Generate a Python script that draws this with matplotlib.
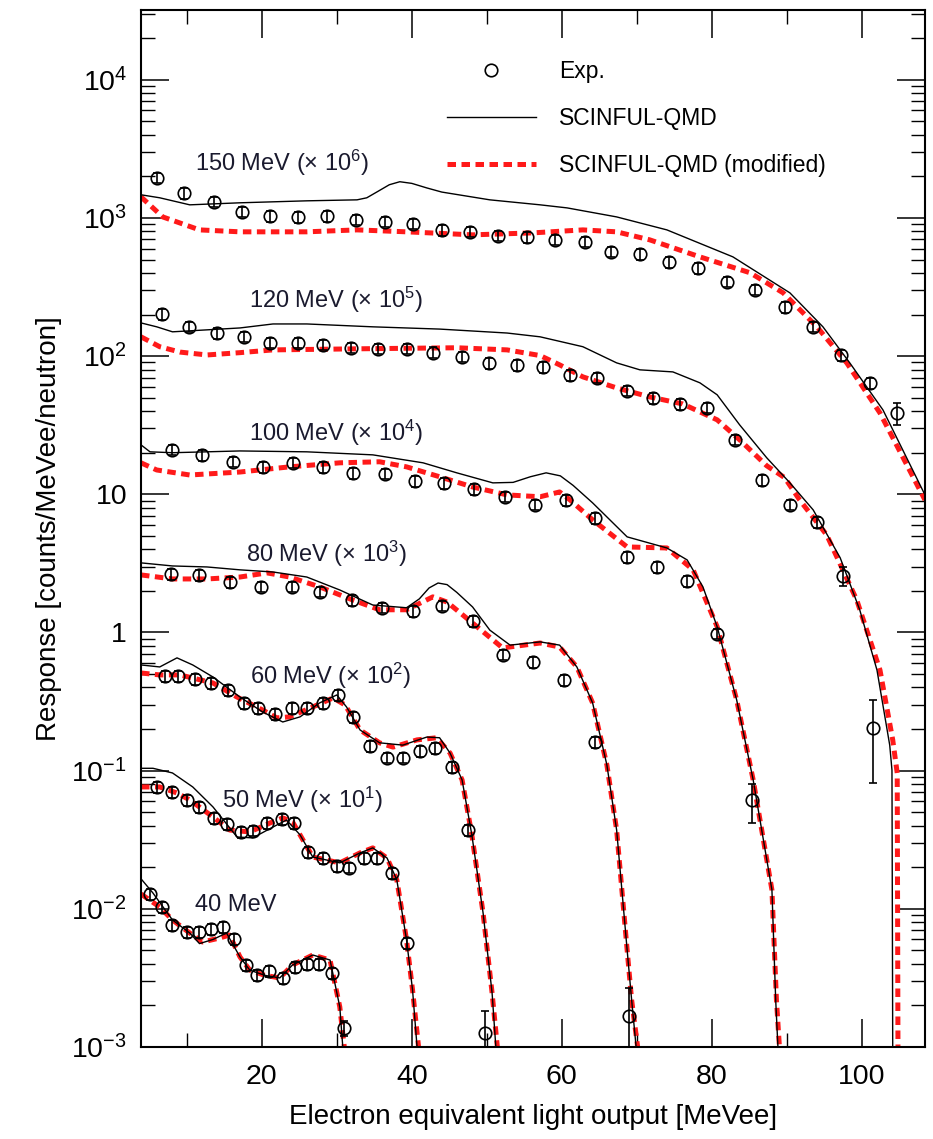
import matplotlib
matplotlib.use("Agg")
import matplotlib.pyplot as plt
from matplotlib.lines import Line2D
from matplotlib.ticker import LogLocator, NullFormatter

plt.rcParams['font.family'] = ['Liberation Sans', 'DejaVu Sans']
plt.rcParams['mathtext.fontset'] = 'custom'
plt.rcParams['mathtext.rm'] = 'Liberation Sans'
plt.rcParams['mathtext.default'] = 'regular'

# --- measured response (already multiplied by the scale factor in the label) ---
exp_40_x = [5.1, 6.7, 8.1, 10.0, 11.6, 13.2, 14.8, 16.3, 17.9, 19.3, 20.9, 22.8, 24.4, 26.0, 27.6, 29.3, 30.9]
exp_40_y = [0.0128, 0.0103, 0.00764, 0.00679, 0.00679, 0.00715, 0.00739, 0.00605, 0.00392, 0.00332,
            0.00355, 0.00316, 0.00379, 0.00399, 0.00399, 0.00343, 0.00137]
exp_40_err = [0.09] * 16 + [0.12]

exp_50_x = [6.1, 8.1, 10.0, 11.7, 13.6, 15.3, 17.2, 18.8, 20.7, 22.7, 24.3, 26.1, 28.1, 30.0, 31.6,
            33.6, 35.3, 37.3, 39.3]
exp_50_y = [0.0762, 0.0702, 0.0614, 0.0546, 0.0455, 0.0411, 0.0360, 0.0367, 0.0418, 0.0447, 0.0418,
            0.0258, 0.0233, 0.0204, 0.0198, 0.0233, 0.0233, 0.0182, 0.00566]
exp_50_err = [0.09] * 19

exp_60_x = [7.1, 8.9, 11.1, 13.3, 15.5, 17.6, 19.5, 21.7, 24.0, 26.0, 28.1, 30.1, 32.1, 34.4, 36.7,
            38.8, 41.1, 43.1, 45.3, 47.5, 49.7]
exp_60_y = [0.485, 0.485, 0.461, 0.431, 0.384, 0.309, 0.284, 0.257, 0.284, 0.284, 0.309, 0.353, 0.245,
            0.151, 0.124, 0.124, 0.139, 0.146, 0.106, 0.0372, 0.00126]
exp_60_err = [0.09] * 20 + [0.45]

exp_80_x = [7.9, 11.7, 15.7, 19.9, 24.0, 27.7, 32.0, 36.0, 40.1, 44.0, 48.1, 52.1, 56.1, 60.3, 64.4, 68.9]
exp_80_y = [2.65, 2.61, 2.32, 2.14, 2.14, 1.97, 1.72, 1.51, 1.43, 1.56, 1.21, 0.689, 0.612, 0.454,
            0.161, 0.00168]
exp_80_err = [0.09] * 15 + [0.60]

exp_100_x = [8.1, 12.0, 16.1, 20.1, 24.1, 28.1, 32.1, 36.4, 40.4, 44.3, 48.3, 52.4, 56.4, 60.5, 64.4,
             68.7, 72.7, 76.7, 80.7, 85.3]
exp_100_y = [21.0, 19.3, 17.2, 15.8, 16.9, 15.8, 14.3, 14.1, 12.5, 12.1, 10.9, 9.6, 8.4, 9.1, 6.75,
             3.52, 2.98, 2.36, 0.98, 0.061]
exp_100_err = [0.09] * 19 + [0.31]

exp_120_x = [6.7, 10.3, 14.0, 17.6, 21.1, 24.8, 28.1, 31.9, 35.5, 39.3, 42.8, 46.7, 50.3, 54.0, 57.5,
             61.1, 64.7, 68.7, 72.1, 75.7, 79.3, 83.1, 86.7, 90.4, 94.0, 97.5, 101.5]
exp_120_y = [202, 163, 147, 138, 125, 125, 121, 115, 113, 113, 106, 98.9, 89.4, 86.5, 83.5, 73.2, 69.7,
             56.1, 49.9, 45.1, 42.3, 24.8, 12.7, 8.4, 6.3, 2.57, 0.204]
exp_120_err = [0.09] * 25 + [0.15, 0.60]

exp_150_x = [6.0, 9.7, 13.6, 17.3, 21.1, 24.8, 28.7, 32.5, 36.4, 40.1, 44.0, 47.7, 51.5, 55.3, 59.1,
             63.1, 66.5, 70.4, 74.3, 78.1, 82.0, 85.7, 89.7, 93.5, 97.2, 101.1, 104.7]
exp_150_y = [1955, 1520, 1309, 1108, 1036, 1018, 1036, 970, 938, 907, 820, 794, 743, 730, 695, 672,
             569, 550, 481, 435, 345, 302, 227, 163, 102, 64, 38.8]
exp_150_err = [0.09] * 26 + [0.18]

# --- SCINFUL-QMD ---
qmd_40_x = [3.9, 5.5, 8.1, 10.4, 11.7, 13.5, 15.3, 17.1, 18.4, 20.4, 22.4, 24.1, 26.8, 29.1, 30.4, 30.8, 31.0]
qmd_40_y = [0.0165, 0.0130, 0.0083, 0.00668, 0.00560, 0.00600, 0.00668, 0.00448, 0.0036, 0.0033,
            0.00316, 0.00392, 0.00463, 0.00426, 0.00195, 0.001, 0.0003]

qmd_50_x = [3.9, 5.5, 8.1, 10.8, 13.5, 16.7, 18.8, 21.5, 23.3, 25.1, 26.8, 30.4, 33.1, 34.8, 36.7,
            38.0, 39.3, 40.1, 40.7, 41.0]
qmd_50_y = [0.104, 0.104, 0.0962, 0.0762, 0.0546, 0.0331, 0.0326, 0.0391, 0.0439, 0.0343, 0.0237,
            0.0215, 0.0254, 0.0276, 0.0233, 0.0162, 0.00595, 0.00258, 0.001, 0.0003]

qmd_60_x = [3.9, 6.4, 8.7, 10.8, 13.5, 17.1, 20.1, 22.8, 25.1, 27.7, 30.0, 31.3, 33.1, 35.7, 38.8,
            42.0, 43.7, 45.1, 46.7, 48.0, 49.5, 50.7, 51.2, 51.5]
qmd_60_y = [0.582, 0.563, 0.655, 0.582, 0.476, 0.341, 0.266, 0.225, 0.245, 0.309, 0.353, 0.289, 0.197,
            0.159, 0.153, 0.175, 0.173, 0.134, 0.0857, 0.0343, 0.00933, 0.00246, 0.001, 0.0003]

qmd_80_x = [3.9, 8.1, 12.7, 17.1, 21.5, 26.0, 30.4, 34.8, 39.3, 41.0, 42.3, 43.5, 44.7, 46.0, 48.1,
            50.4, 53.1, 57.1, 59.7, 62.0, 64.1, 66.0, 67.3, 68.7, 69.3, 69.9, 70.2]
qmd_80_y = [3.19, 3.03, 2.98, 2.84, 2.74, 2.52, 2.03, 1.58, 1.51, 1.75, 2.10, 2.28, 2.22, 1.95, 1.53,
            1.04, 0.81, 0.855, 0.81, 0.563, 0.309, 0.110, 0.0372, 0.00504, 0.00219, 0.001, 0.0003]

qmd_100_x = [3.9, 5.1, 8.1, 17.1, 26.0, 34.8, 41.5, 46.0, 50.8, 53.5, 55.8, 57.9, 59.8, 61.5, 64.1,
             68.7, 74.0, 76.7, 78.8, 80.7, 83.3, 85.5, 88.0, 88.5, 88.8, 89.0]
qmd_100_y = [22.8, 20.3, 20.0, 20.6, 20.3, 19.3, 16.9, 14.3, 12.1, 12.2, 13.4, 14.3, 13.6, 11.6, 8.67,
             4.92, 4.09, 3.35, 2.14, 1.10, 0.325, 0.0857, 0.0137, 0.0022, 0.001, 0.0003]

qmd_120_x = [3.9, 6.0, 8.1, 12.7, 17.1, 21.5, 26.0, 34.8, 43.7, 52.7, 57.1, 62.8, 67.3, 70.4, 74.8,
             78.4, 80.7, 83.7, 87.3, 90.4, 93.5, 97.1, 99.7, 102.0, 103.7, 104.0, 104.1, 104.2]
qmd_120_y = [174, 163, 150, 155, 160, 171, 171, 163, 157, 147, 138, 117, 89.4, 79.6, 76.9, 64.1, 52.5,
             31.8, 18.4, 12.1, 7.71, 3.47, 1.46, 0.535, 0.153, 0.101, 0.001, 0.0003]

qmd_150_x = [3.9, 6.4, 10.4, 17.1, 26.0, 32.7, 34.0, 35.5, 37.0, 38.4, 40.0, 42.0, 44.0, 50.4, 57.1,
             60.7, 67.3, 74.0, 82.8, 90.4, 94.8, 98.4, 102.8, 108.4]
qmd_150_y = [1472, 1400, 1245, 1288, 1331, 1353, 1400, 1560, 1740, 1830, 1780, 1650, 1540, 1353, 1245,
             1183, 1018, 820, 523, 287, 163, 89, 40.8, 9.9]

# --- SCINFUL-QMD (modified) ---
mod_40_x = [3.9, 6.4, 8.1, 10.4, 12.1, 14.4, 15.7, 17.1, 18.4, 20.4, 22.4, 24.1, 26.8, 29.1, 30.4, 31.0, 31.2]
mod_40_y = [0.0128, 0.0103, 0.0083, 0.00668, 0.00575, 0.00615, 0.00646, 0.00448, 0.0036, 0.0033,
            0.00316, 0.00392, 0.00463, 0.00426, 0.00195, 0.001, 0.0003]

mod_50_x = [3.9, 6.4, 8.7, 10.4, 13.5, 15.7, 18.4, 21.1, 22.8, 24.1, 25.1, 26.8, 30.4, 33.1, 34.8,
            36.7, 38.0, 39.3, 40.1, 40.9, 41.2]
mod_50_y = [0.0762, 0.0762, 0.0689, 0.0614, 0.0462, 0.0372, 0.0360, 0.0418, 0.0455, 0.0426, 0.0343,
            0.0237, 0.0215, 0.0254, 0.0276, 0.0233, 0.0162, 0.00595, 0.00258, 0.001, 0.0003]

mod_60_x = [3.9, 6.4, 9.1, 11.3, 13.5, 16.7, 20.1, 22.0, 23.7, 26.8, 29.5, 31.1, 33.1, 35.7, 37.5,
            40.7, 43.3, 45.1, 46.7, 48.0, 49.5, 50.7, 51.4, 51.7]
mod_60_y = [0.509, 0.493, 0.493, 0.461, 0.431, 0.341, 0.275, 0.241, 0.245, 0.289, 0.336, 0.299, 0.197,
            0.159, 0.148, 0.167, 0.173, 0.134, 0.0857, 0.0343, 0.00933, 0.00246, 0.001, 0.0003]

mod_80_x = [3.9, 8.1, 12.7, 17.1, 20.7, 23.7, 27.7, 32.1, 35.7, 39.3, 42.8, 44.7, 48.1, 52.1, 57.1,
            59.7, 62.0, 64.1, 66.0, 67.3, 68.7, 69.3, 70.1, 70.4]
mod_80_y = [2.61, 2.44, 2.44, 2.52, 2.70, 2.52, 2.14, 1.72, 1.46, 1.46, 1.81, 1.66, 1.17, 0.773, 0.839,
            0.785, 0.563, 0.309, 0.110, 0.0372, 0.00504, 0.00219, 0.001, 0.0003]

mod_100_x = [3.9, 6.0, 10.4, 17.1, 23.7, 30.4, 35.7, 39.3, 43.7, 48.1, 52.7, 57.1, 59.7, 61.1, 64.1,
             68.7, 74.0, 77.5, 80.7, 83.3, 85.5, 88.0, 88.6, 89.0, 89.2]
mod_100_y = [16.9, 15.0, 13.8, 14.5, 15.8, 16.9, 17.2, 15.8, 13.4, 11.3, 9.9, 9.6, 10.4, 9.1, 6.53,
             4.16, 4.09, 2.84, 1.10, 0.325, 0.0857, 0.0137, 0.0022, 0.001, 0.0003]

mod_120_x = [3.9, 6.4, 9.1, 12.7, 17.1, 21.5, 32.7, 46.0, 52.7, 57.1, 59.7, 62.8, 67.3, 71.7, 76.1,
             80.7, 83.7, 87.3, 89.7, 91.7, 95.3, 99.3, 102.4, 104.1, 104.7, 104.8, 104.9]
mod_120_y = [138, 117, 107, 102, 106, 111, 113, 115, 111, 101, 86.5, 70.8, 58.9, 50.7, 45.1, 34.6,
             24.8, 16.1, 13.2, 9.1, 5.08, 1.72, 0.535, 0.167, 0.096, 0.001, 0.0003]

mod_150_x = [3.9, 6.8, 11.7, 17.1, 26.0, 32.7, 39.3, 48.1, 56.1, 62.8, 67.3, 71.7, 78.4, 85.1, 89.5,
             94.0, 98.0, 102.4, 108.4]
mod_150_y = [1422, 1018, 820, 794, 794, 820, 794, 755, 780, 820, 794, 695, 523, 401, 287, 163, 89,
             38.8, 9.1]

# curve labels: text, left x, centre y
curve_labels = ['150 MeV (× 10$^{6}$)', '120 MeV (× 10$^{5}$)', '100 MeV (× 10$^{4}$)',
                '80 MeV (× 10$^{3}$)', '60 MeV (× 10$^{2}$)', '50 MeV (× 10$^{1}$)', '40 MeV']
label_x = [11.1, 18.3, 18.3, 17.9, 18.4, 14.7, 11.1]
label_y = [2505, 255, 27.9, 3.71, 0.485, 0.0614, 0.01066]

y_ticks = [1e-3, 1e-2, 1e-1, 1, 10, 1e2, 1e3, 1e4]
y_tick_labels = ['$10^{-3}$', '$10^{-2}$', '$10^{-1}$', '1', '10', '$10^{2}$', '$10^{3}$', '$10^{4}$']

fig = plt.figure(figsize=(9.33, 11.39), dpi=100)
ax = fig.add_axes([0.1511, 0.0808, 0.8403, 0.9104])

RED = '#ff1a1a'
series = [
    (exp_40_x, exp_40_y, exp_40_err, qmd_40_x, qmd_40_y, mod_40_x, mod_40_y),
    (exp_50_x, exp_50_y, exp_50_err, qmd_50_x, qmd_50_y, mod_50_x, mod_50_y),
    (exp_60_x, exp_60_y, exp_60_err, qmd_60_x, qmd_60_y, mod_60_x, mod_60_y),
    (exp_80_x, exp_80_y, exp_80_err, qmd_80_x, qmd_80_y, mod_80_x, mod_80_y),
    (exp_100_x, exp_100_y, exp_100_err, qmd_100_x, qmd_100_y, mod_100_x, mod_100_y),
    (exp_120_x, exp_120_y, exp_120_err, qmd_120_x, qmd_120_y, mod_120_x, mod_120_y),
    (exp_150_x, exp_150_y, exp_150_err, qmd_150_x, qmd_150_y, mod_150_x, mod_150_y),
]

for ex, ey, erel, qx, qy, mx, my in series:
    ax.plot(mx, my, color=RED, lw=3.6, dashes=(1.7, 1.1), dash_capstyle='butt', zorder=2)
    ax.plot(qx, qy, color='black', lw=1.0, zorder=3)
    yerr = [v * r for v, r in zip(ey, erel)]
    ax.errorbar(ex, ey, yerr=yerr, fmt='o', mfc='none', mec='black', ms=9, mew=1.2,
                ecolor='black', elinewidth=1.2, capsize=3, capthick=1.2, zorder=4)

for txt, tx, ty in zip(curve_labels, label_x, label_y):
    ax.text(tx, ty, txt, ha='left', va='center', fontsize=17, color='#1a1a2e')

ax.set_yscale('log')
ax.set_xlim(3.9, 108.4)
ax.set_ylim(1e-3, 3.2e4)

ax.set_xticks([20, 40, 60, 80, 100])
ax.set_xticks([10, 30, 50, 70, 90], minor=True)
ax.set_yticks(y_ticks)
ax.set_yticklabels(y_tick_labels)
ax.yaxis.set_minor_locator(LogLocator(base=10, subs=range(2, 10), numticks=20))
ax.yaxis.set_minor_formatter(NullFormatter())

ax.tick_params(which='both', direction='in', top=True, right=True)
ax.tick_params(which='major', length=20, width=1.1, labelsize=20.5)
ax.tick_params(axis='x', which='major', pad=12)
ax.tick_params(axis='y', which='major', pad=10)
ax.tick_params(which='minor', length=10, width=1.0)
for sp in ax.spines.values():
    sp.set_linewidth(1.5)

ax.set_xlabel('Electron equivalent light output [MeVee]', fontsize=20, labelpad=10)
ax.set_ylabel('Response [counts/MeVee/neutron]', fontsize=20, labelpad=7)

handles = [
    Line2D([], [], ls='none', marker='o', mfc='none', mec='black', ms=9, mew=1.2),
    Line2D([], [], color='black', lw=1.0),
    Line2D([], [], color=RED, lw=3.6, dashes=(1.7, 1.1), dash_capstyle='butt'),
]
ax.legend(handles, ['Exp.', 'SCINFUL-QMD', 'SCINFUL-QMD (modified)'],
          loc='upper left', bbox_to_anchor=(0.390, 0.952), frameon=False, fontsize=16.5,
          handlelength=3.9, handletextpad=1.0, labelspacing=1.05, borderpad=0, borderaxespad=0)

fig.savefig('out.png', dpi=100)
